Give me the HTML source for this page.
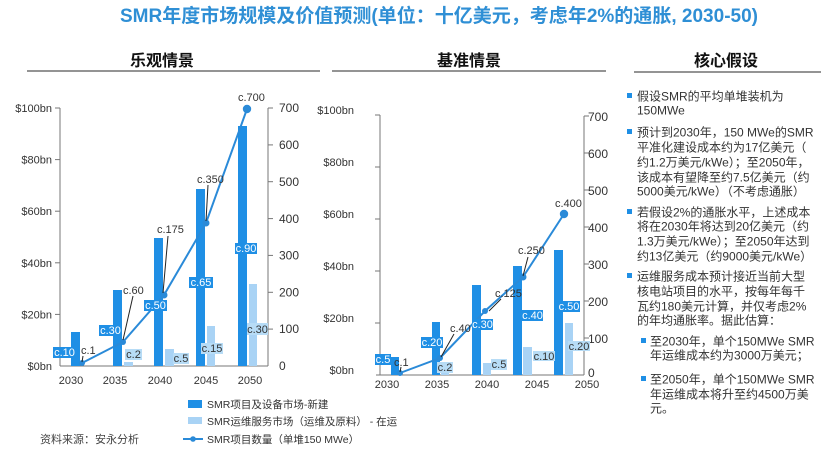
<!DOCTYPE html>
<html><head><meta charset="utf-8">
<style>
html,body{margin:0;padding:0;background:#fff;}
svg{display:block;}
text{font-family:"Liberation Sans","Noto Sans CJK SC",sans-serif;}
</style></head>
<body>
<svg width="831" height="449" viewBox="0 0 831 449" xmlns="http://www.w3.org/2000/svg">
<rect width="831" height="449" fill="#fff"/>
<!-- Title -->
<text x="120" y="22" font-size="19" font-weight="bold" fill="#2f8fd5" textLength="638" lengthAdjust="spacingAndGlyphs">SMR年度市场规模及价值预测(单位：十亿美元，考虑年2%的通胀, 2030-50)</text>

<!-- Section headers -->
<g font-size="16" font-weight="bold" fill="#111" text-anchor="middle">
<text x="162" y="66">乐观情景</text>
<text x="469" y="66">基准情景</text>
<text x="726" y="66">核心假设</text>
</g>
<g stroke="#555" stroke-width="1.3">
<line x1="27" y1="71" x2="320" y2="71"/>
<line x1="332" y1="71" x2="606" y2="71"/>
<line x1="634" y1="72" x2="821" y2="72"/>
</g>

<!-- ===== Chart 1 ===== -->
<g stroke="#777" stroke-width="1" fill="none">
<line x1="60" y1="108" x2="60" y2="366"/>
<line x1="268" y1="108" x2="268" y2="366"/>
<line x1="60" y1="366" x2="268" y2="366"/>
<line x1="55" y1="108" x2="60" y2="108"/>
<line x1="55" y1="159.6" x2="60" y2="159.6"/>
<line x1="55" y1="211.2" x2="60" y2="211.2"/>
<line x1="55" y1="262.8" x2="60" y2="262.8"/>
<line x1="55" y1="314.4" x2="60" y2="314.4"/>
<line x1="268" y1="108" x2="273" y2="108"/>
<line x1="268" y1="144.9" x2="273" y2="144.9"/>
<line x1="268" y1="181.7" x2="273" y2="181.7"/>
<line x1="268" y1="218.6" x2="273" y2="218.6"/>
<line x1="268" y1="255.4" x2="273" y2="255.4"/>
<line x1="268" y1="292.3" x2="273" y2="292.3"/>
<line x1="268" y1="329.1" x2="273" y2="329.1"/>
</g>
<g font-size="11" fill="#333" text-anchor="end">
<text x="52" y="112">$100bn</text>
<text x="52" y="163.6">$80bn</text>
<text x="52" y="215.2">$60bn</text>
<text x="52" y="266.8">$40bn</text>
<text x="52" y="318.4">$20bn</text>
<text x="52" y="370">$0bn</text>
</g>
<g font-size="12" fill="#333">
<text x="279" y="112">700</text>
<text x="279" y="149">600</text>
<text x="279" y="186">500</text>
<text x="279" y="223">400</text>
<text x="279" y="259.5">300</text>
<text x="279" y="296.5">200</text>
<text x="279" y="333">100</text>
<text x="279" y="370">0</text>
</g>
<g font-size="11" fill="#333" text-anchor="middle">
<text x="71" y="384">2030</text>
<text x="115" y="384">2035</text>
<text x="160" y="384">2040</text>
<text x="206" y="384">2045</text>
<text x="250" y="384">2050</text>
</g>
<!-- bars chart1 -->
<g fill="#1f8fe5">
<rect x="71" y="332" width="9" height="34"/>
<rect x="113" y="290" width="9" height="76"/>
<rect x="154" y="238" width="9" height="128"/>
<rect x="196" y="189" width="9" height="177"/>
<rect x="238" y="126" width="9" height="240"/>
</g>
<g fill="#a9d3f5">
<rect x="124" y="362" width="9" height="4"/>
<rect x="165" y="349" width="9" height="17"/>
<rect x="207" y="326" width="8" height="40"/>
<rect x="249" y="284" width="8" height="82"/>
</g>
<!-- line chart1 -->
<polyline points="82,363 123,342 164,295 206,223 247,109" fill="none" stroke="#2a8ad8" stroke-width="2"/>
<g fill="#2a8ad8">
<circle cx="82" cy="363" r="3"/>
<circle cx="123" cy="342" r="3"/>
<circle cx="164" cy="295" r="3.5"/>
<circle cx="206" cy="223" r="3.5"/>
<circle cx="247" cy="109" r="4.2"/>
</g>
<!-- leaders chart1 -->
<g stroke="#222" stroke-width="1">
<line x1="83" y1="356" x2="82" y2="362"/>
<line x1="133" y1="296" x2="123" y2="340"/>
<line x1="168" y1="236" x2="163" y2="293"/>
<line x1="208" y1="185" x2="206" y2="221"/>
</g>
<!-- label boxes chart1 -->
<g fill="#1f8fe5">
<rect x="53" y="347" width="23" height="11"/>
<rect x="99" y="325" width="23" height="11"/>
<rect x="144" y="300" width="23" height="11"/>
<rect x="189" y="277" width="24" height="11"/>
<rect x="235" y="243" width="22" height="11"/>
</g>
<g fill="#b7dcf6">
<rect x="125" y="349" width="17" height="11"/>
<rect x="173" y="353" width="16" height="11"/>
<rect x="201" y="343" width="22" height="11"/>
<rect x="247" y="323" width="21" height="12"/>
</g>
<g font-size="11" fill="#fff" text-anchor="middle">
<text x="64.5" y="356">c.10</text>
<text x="110.5" y="334">c.30</text>
<text x="155.5" y="309">c.50</text>
<text x="201" y="286">c.65</text>
<text x="246" y="252">c.90</text>
</g>
<g font-size="11" fill="#333" text-anchor="middle">
<text x="133.5" y="358">c.2</text>
<text x="181" y="362">c.5</text>
<text x="212" y="352">c.15</text>
<text x="257.5" y="333">c.30</text>
</g>
<g font-size="11" fill="#333">
<text x="81" y="354">c.1</text>
<text x="123" y="294">c.60</text>
<text x="157" y="233">c.175</text>
<text x="197" y="183">c.350</text>
<text x="238" y="101">c.700</text>
</g>

<!-- ===== Chart 2 ===== -->
<g stroke="#777" stroke-width="1" fill="none">
<line x1="380" y1="115" x2="380" y2="375"/>
<line x1="584" y1="116" x2="584" y2="375"/>
<line x1="376" y1="375" x2="584" y2="375"/>
<line x1="375" y1="115" x2="380" y2="115"/>
<line x1="375" y1="167" x2="380" y2="167"/>
<line x1="375" y1="219" x2="380" y2="219"/>
<line x1="375" y1="271" x2="380" y2="271"/>
<line x1="375" y1="323" x2="380" y2="323"/>
<line x1="584" y1="116" x2="589" y2="116"/>
<line x1="584" y1="153" x2="589" y2="153"/>
<line x1="584" y1="190" x2="589" y2="190"/>
<line x1="584" y1="227" x2="589" y2="227"/>
<line x1="584" y1="264" x2="589" y2="264"/>
<line x1="584" y1="301" x2="589" y2="301"/>
<line x1="584" y1="338" x2="589" y2="338"/>
</g>
<g font-size="11" fill="#333" text-anchor="end">
<text x="354" y="114">$100bn</text>
<text x="354" y="166">$80bn</text>
<text x="354" y="218">$60bn</text>
<text x="354" y="270">$40bn</text>
<text x="354" y="322">$20bn</text>
<text x="354" y="374">$0bn</text>
</g>
<g font-size="12" fill="#333">
<text x="588" y="121">700</text>
<text x="588" y="158">600</text>
<text x="588" y="195">500</text>
<text x="588" y="232">400</text>
<text x="588" y="269">300</text>
<text x="588" y="306">200</text>
<text x="588" y="343">100</text>
<text x="588" y="377">0</text>
</g>
<g font-size="11" fill="#333" text-anchor="middle">
<text x="387" y="388">2030</text>
<text x="437" y="388">2035</text>
<text x="487" y="388">2040</text>
<text x="537" y="388">2045</text>
<text x="587" y="388">2050</text>
</g>
<g fill="#1f8fe5">
<rect x="391" y="357" width="8" height="18"/>
<rect x="432" y="322" width="8" height="53"/>
<rect x="472" y="285" width="9" height="90"/>
<rect x="513" y="266" width="9" height="109"/>
<rect x="554" y="250" width="9" height="125"/>
</g>
<g fill="#a9d3f5">
<rect x="441" y="370" width="8" height="5"/>
<rect x="483" y="363" width="8" height="12"/>
<rect x="523" y="347" width="9" height="28"/>
<rect x="565" y="323" width="8" height="52"/>
</g>
<polyline points="400,373 440,358 485,311 523,277 564,214" fill="none" stroke="#2a8ad8" stroke-width="2"/>
<g fill="#2a8ad8">
<circle cx="400" cy="373" r="3"/>
<circle cx="440" cy="358" r="3"/>
<circle cx="485" cy="311" r="3"/>
<circle cx="523" cy="277" r="3.5"/>
<circle cx="564" cy="214" r="4.2"/>
</g>
<g stroke="#222" stroke-width="1">
<line x1="401" y1="367" x2="400" y2="372"/>
<line x1="454" y1="334" x2="441" y2="357"/>
<line x1="501" y1="299" x2="489" y2="311"/>
<line x1="528" y1="257" x2="523" y2="276"/>
</g>
<g fill="#1f8fe5">
<rect x="375" y="354" width="16" height="11"/>
<rect x="421" y="337" width="22" height="11"/>
<rect x="472" y="319" width="21" height="11"/>
<rect x="522" y="310" width="21" height="11"/>
<rect x="558" y="301" width="22" height="11"/>
</g>
<g fill="#b7dcf6">
<rect x="437" y="362" width="16" height="11"/>
<rect x="491" y="359" width="16" height="11"/>
<rect x="533" y="351" width="22" height="10"/>
<rect x="568" y="341" width="22" height="10"/>
</g>
<g font-size="11" fill="#fff" text-anchor="middle">
<text x="383" y="363">c.5</text>
<text x="432" y="346">c.20</text>
<text x="482.5" y="328">c.30</text>
<text x="532.5" y="319">c.40</text>
<text x="569" y="310">c.50</text>
</g>
<g font-size="11" fill="#333" text-anchor="middle">
<text x="445" y="371">c.2</text>
<text x="499" y="368">c.5</text>
<text x="544" y="360">c.10</text>
<text x="579" y="350">c.20</text>
</g>
<g font-size="11" fill="#333">
<text x="394" y="366">c.1</text>
<text x="450" y="332">c.40</text>
<text x="495" y="297">c.125</text>
<text x="518" y="254">c.250</text>
<text x="555" y="207">c.400</text>
</g>

<!-- Legend -->
<rect x="188" y="400" width="14" height="8" fill="#1f8fe5"/>
<rect x="188" y="417" width="14" height="7" fill="#a9d3f5"/>
<line x1="183" y1="439" x2="203" y2="439" stroke="#2a8ad8" stroke-width="2"/>
<circle cx="193" cy="439" r="2.8" fill="#2a8ad8"/>
<g font-size="10.5" fill="#333">
<text x="207" y="408">SMR项目及设备市场-新建</text>
<text x="207" y="425">SMR运维服务市场（运维及原料） - 在运</text>
<text x="207" y="443">SMR项目数量（单堆150 MWe）</text>
</g>
<text x="40" y="443" font-size="11" fill="#444">资料来源：安永分析</text>

<!-- Right panel -->
<g fill="#1f8fe5">
<rect x="627" y="93" width="5" height="5"/>
<rect x="627" y="129" width="5" height="5"/>
<rect x="627" y="209" width="5" height="5"/>
<rect x="627" y="273" width="5" height="5"/>
<rect x="641" y="338" width="5" height="5"/>
<rect x="641" y="376" width="5" height="5"/>
</g>
<g font-size="12" fill="#333">
<text x="637" y="100.5">假设SMR的平均单堆装机为</text>
<text x="637" y="114.5">150MWe</text>
<text x="637" y="136.5">预计到2030年，150 MWe的SMR</text>
<text x="637" y="151.5">平准化建设成本约为17亿美元（</text>
<text x="637" y="166.5">约1.2万美元/kWe）；至2050年，</text>
<text x="637" y="181.5">该成本有望降至约7.5亿美元（约</text>
<text x="637" y="195.5">5000美元/kWe）（不考虑通胀）</text>
<text x="637" y="216.5">若假设2%的通胀水平，上述成本</text>
<text x="637" y="230.5">将在2030年将达到20亿美元（约</text>
<text x="637" y="245.5">1.3万美元/kWe）；至2050年达到</text>
<text x="637" y="260.5">约13亿美元（约9000美元/kWe）</text>
<text x="637" y="280.5">运维服务成本预计接近当前大型</text>
<text x="637" y="295.5">核电站项目的水平，按每年每千</text>
<text x="637" y="310.5">瓦约180美元计算，并仅考虑2%</text>
<text x="637" y="324.5">的年均通胀率。据此估算：</text>
<text x="650" y="345.5">至2030年，单个150MWe SMR</text>
<text x="650" y="359.5">年运维成本约为3000万美元；</text>
<text x="650" y="383.5">至2050年，单个150MWe SMR</text>
<text x="650" y="398.5">年运维成本将升至约4500万美</text>
<text x="650" y="412.5">元。</text>
</g>
</svg>
</body></html>
